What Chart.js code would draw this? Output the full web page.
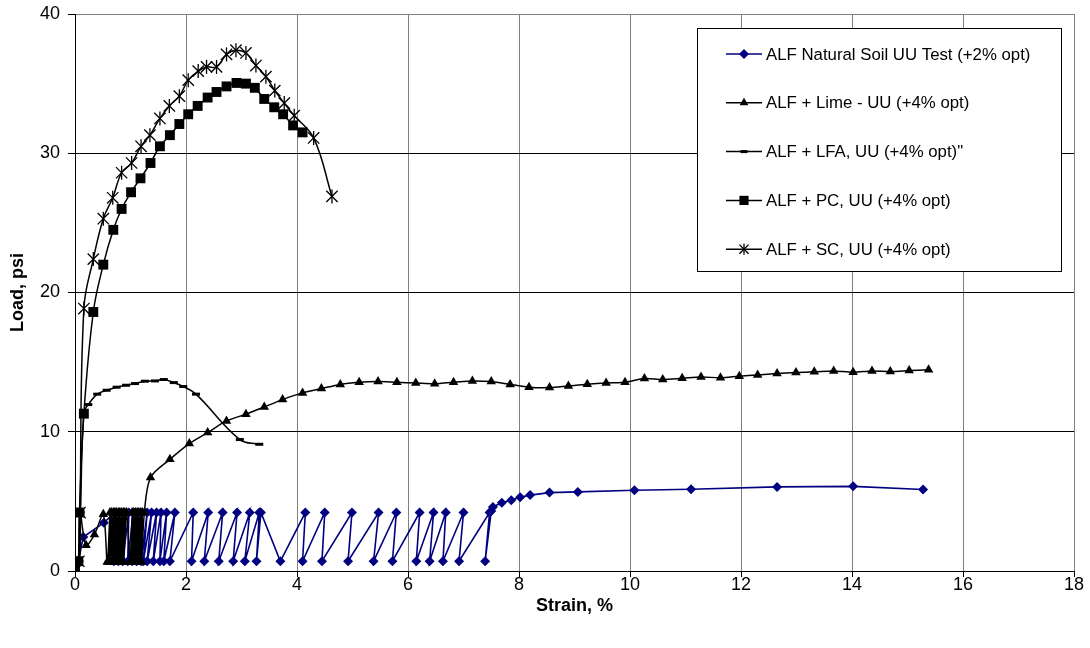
<!DOCTYPE html>
<html>
<head>
<meta charset="utf-8">
<script src="https://cdn.jsdelivr.net/npm/chart.js@4/dist/chart.umd.min.js"></script>
<style>
  html, body { margin: 0; padding: 0; background: #fff; }
  #wrap { width: 1090px; height: 648px; }
</style>
</head>
<body>
<div id="wrap"><canvas id="c" width="1090" height="648"></canvas></div>
<script>
// ---------- DATA ----------
const seriesLabels = [
  'ALF Natural Soil UU Test (+2% opt)',
  'ALF + Lime - UU (+4% opt)',
  'ALF + LFA, UU (+4% opt)"',
  'ALF + PC, UU (+4% opt)',
  'ALF + SC, UU (+4% opt)'
];

const xTickValues = [0, 2, 4, 6, 8, 10, 12, 14, 16, 18];
const yTickValues = [0, 10, 20, 30, 40];

const naturalX = [0, 0.06, 0.15, 0.52, 0.72, 0.70, 0.80, 0.78, 0.88, 0.86, 0.97, 0.95, 1.05, 1.03, 1.13, 1.11, 1.21, 1.19,
  1.30, 1.23, 1.38, 1.30, 1.47, 1.41, 1.55, 1.53, 1.65, 1.60, 1.80, 1.71, 2.13, 2.10, 2.40, 2.33, 2.66, 2.59, 2.92, 2.85,
  3.15, 3.06, 3.32, 3.27, 3.35, 3.70, 4.15, 4.10, 4.50, 4.45, 4.99, 4.92, 5.47, 5.38, 5.79, 5.72, 6.21, 6.15, 6.46, 6.39,
  6.68, 6.63, 7.00, 6.92, 7.47, 7.39, 7.50, 7.53, 7.69, 7.86, 8.02, 8.20, 8.55, 9.06, 10.08, 11.10, 12.65, 14.02, 15.28];
const naturalY = [0, 0.7, 2.44, 3.47, 4.2, 0.7, 4.2, 0.7, 4.2, 0.7, 4.2, 0.7, 4.2, 0.7, 4.2, 0.7, 4.2, 0.7,
  4.2, 0.7, 4.2, 0.7, 4.2, 0.7, 4.2, 0.7, 4.2, 0.7, 4.2, 0.7, 4.2, 0.7, 4.2, 0.7, 4.2, 0.7, 4.2, 0.7,
  4.2, 0.7, 4.2, 0.7, 4.2, 0.7, 4.2, 0.7, 4.2, 0.7, 4.2, 0.7, 4.2, 0.7, 4.2, 0.7, 4.2, 0.7, 4.2, 0.7,
  4.2, 0.7, 4.2, 0.7, 4.2, 0.7, 4.3, 4.6, 4.9, 5.08, 5.3, 5.45, 5.63, 5.68, 5.80, 5.87, 6.04, 6.08, 5.85];

const limeX = [0, 0.06, 0.09, 0.20, 0.35, 0.51,
  0.58, 0.63, 0.61, 0.66, 0.64, 0.69, 0.67, 0.72, 0.70, 0.75, 0.73, 0.78, 0.76, 0.81, 0.79, 0.84,
  0.82, 0.87, 0.85, 0.90, 0.88, 0.93,
  0.99, 1.03, 1.02, 1.06, 1.05, 1.09, 1.08, 1.12, 1.11, 1.15, 1.14, 1.18, 1.17, 1.21, 1.20, 1.25,
  1.36, 1.71, 2.06, 2.39, 2.73, 3.08, 3.41, 3.74, 4.10, 4.44, 4.78, 5.12, 5.46, 5.80, 6.14, 6.48, 6.82, 7.16, 7.50,
  7.84, 8.18, 8.55, 8.89, 9.23, 9.57, 9.91, 10.26, 10.59, 10.94, 11.28, 11.63, 11.97, 12.30, 12.65, 12.99, 13.32,
  13.67, 14.02, 14.36, 14.69, 15.03, 15.38];
const limeY = [0, 0.7, 4.2, 1.85, 2.62, 4.07,
  0.65, 4.2, 0.65, 4.2, 0.65, 4.2, 0.65, 4.2, 0.65, 4.2, 0.65, 4.2, 0.65, 4.2, 0.65, 4.2,
  0.65, 4.2, 0.65, 4.2, 0.65, 4.2,
  0.65, 4.2, 0.65, 4.2, 0.65, 4.2, 0.65, 4.2, 0.65, 4.2, 0.65, 4.2, 0.65, 4.2, 0.65, 4.2,
  6.71, 8.02, 9.15, 9.94, 10.78, 11.26, 11.78, 12.31, 12.79, 13.1, 13.4, 13.55, 13.6, 13.55, 13.5, 13.45, 13.55, 13.65, 13.6,
  13.4, 13.2, 13.17, 13.29, 13.41, 13.5, 13.56, 13.82, 13.75, 13.84, 13.94, 13.87, 13.99, 14.08, 14.18, 14.25, 14.3,
  14.37, 14.27, 14.37, 14.32, 14.39, 14.46];

const lfaX = [0, 0.08, 0.10, 0.16, 0.24, 0.40, 0.57, 0.75, 0.92, 1.08, 1.26, 1.44, 1.60, 1.78, 1.95, 2.18, 2.97, 3.32];
const lfaY = [0, 0.7, 4.2, 11.4, 11.95, 12.7, 12.98, 13.2, 13.34, 13.46, 13.63, 13.65, 13.75, 13.53, 13.25, 12.7, 9.44, 9.1];

const pcX = [0, 0.06, 0.08, 0.16, 0.33, 0.51, 0.69, 0.84, 1.01, 1.18, 1.36, 1.53, 1.71, 1.88, 2.04, 2.21, 2.39, 2.55,
  2.73, 2.91, 3.08, 3.24, 3.41, 3.59, 3.75, 3.93, 4.10];
const pcY = [0, 0.7, 4.2, 11.3, 18.6, 22.0, 24.5, 26.0, 27.2, 28.2, 29.3, 30.5, 31.3, 32.1, 32.8, 33.4, 34.0, 34.4,
  34.8, 35.05, 35.0, 34.7, 33.9, 33.3, 32.8, 32.0, 31.5];

const scX = [0, 0.07, 0.09, 0.16, 0.33, 0.51, 0.68, 0.84, 1.02, 1.19, 1.35, 1.53, 1.70, 1.88, 2.04, 2.22, 2.37, 2.55,
  2.73, 2.90, 3.08, 3.26, 3.44, 3.60, 3.77, 3.95, 4.30, 4.63];
const scY = [0, 0.7, 4.2, 18.85, 22.4, 25.3, 26.8, 28.6, 29.3, 30.5, 31.3, 32.5, 33.4, 34.1, 35.25, 35.9, 36.2, 36.2,
  37.1, 37.4, 37.2, 36.3, 35.5, 34.5, 33.6, 32.7, 31.1, 26.9];

// ---------- HELPERS ----------
const FONT = "'Liberation Sans', Arial, Helvetica, sans-serif";
function pts(xs, ys) { return xs.map((x, i) => ({ x: x, y: ys[i] })); }

const NAVY = '#000080';
const datasets = [
  { label: seriesLabels[0], data: pts(naturalX, naturalY), borderColor: NAVY, backgroundColor: NAVY,
    pointStyle: 'rectRot', pointRadius: 5, pointBorderWidth: 0, borderWidth: 1.6, tension: 0, order: 6 },
  { label: seriesLabels[1], data: pts(limeX, limeY), borderColor: '#000', backgroundColor: '#000',
    pointStyle: 'triangle', pointRadius: 5.5, pointBorderWidth: 0, borderWidth: 1.5, tension: 0.3, order: 5 },
  { label: seriesLabels[2], data: pts(lfaX, lfaY), borderColor: '#000', backgroundColor: '#000',
    pointStyle: 'line', pointRadius: 4, pointBorderWidth: 3, borderWidth: 1.5, tension: 0.4, order: 4 },
  { label: seriesLabels[3], data: pts(pcX, pcY), borderColor: '#000', backgroundColor: '#000',
    pointStyle: 'rect', pointRadius: 7, pointBorderWidth: 0, borderWidth: 1.5, tension: 0.4, order: 3 },
  { label: seriesLabels[4], data: pts(scX, scY), borderColor: '#000', backgroundColor: '#000',
    pointStyle: 'crossRot', pointRadius: 8, pointBorderWidth: 1.3, borderWidth: 1.5, tension: 0.4, order: 2,
    legendExtra: { pointStyle: 'line', rotation: 90 } },
  // vertical stroke of the SC asterisk marker (same SC data, markers only)
  { label: seriesLabels[4], data: pts(scX, scY), borderColor: '#000', backgroundColor: '#000',
    pointStyle: 'line', pointRotation: 90, pointRadius: 7, pointBorderWidth: 1.3, showLine: false, order: 1,
    legendSkip: true }
];
datasets.forEach(d => {
  if (d.showLine === undefined) d.showLine = true;
  d.fill = false; d.pointHoverRadius = d.pointRadius;
});

// ---------- BOXED LEGEND ----------
const boxLegend = {
  id: 'boxLegend',
  afterDraw(chart) {
    const ctx = chart.ctx;
    const a = chart.chartArea;
    const left = a.right - 377, top = a.top + 14, w = 364, h = 243;
    ctx.save();
    ctx.fillStyle = '#fff';
    ctx.fillRect(left, top, w, h);
    ctx.strokeStyle = '#000';
    ctx.lineWidth = 1;
    ctx.strokeRect(left + 0.5, top + 0.5, w, h);
    const rowGap = 48.8;
    let i = 0;
    chart.data.datasets.forEach(ds => {
      if (ds.legendSkip) return;
      const y = top + 26 + i * rowGap;
      i++;
      const x0 = left + 29, x1 = left + 65, xm = (x0 + x1) / 2;
      ctx.strokeStyle = ds.borderColor;
      ctx.lineWidth = 1.5;
      ctx.beginPath(); ctx.moveTo(x0, y); ctx.lineTo(x1, y); ctx.stroke();
      ctx.fillStyle = ds.backgroundColor;
      ctx.strokeStyle = ds.borderColor;
      ctx.lineWidth = ds.pointBorderWidth || 1;
      let r = 5;
      if (ds.pointStyle === 'rect') r = 6.5;
      else if (ds.pointStyle === 'line') r = 3.5;
      else if (ds.pointStyle === 'crossRot') r = 6.5;
      Chart.helpers.drawPoint(ctx, { pointStyle: ds.pointStyle, radius: r, rotation: 0,
        borderWidth: ds.pointBorderWidth }, xm, y);
      if (ds.legendExtra) {
        Chart.helpers.drawPoint(ctx, { pointStyle: ds.legendExtra.pointStyle, radius: 5.5,
          rotation: ds.legendExtra.rotation, borderWidth: ds.pointBorderWidth }, xm, y);
      }
      ctx.fillStyle = '#000';
      ctx.font = '16.8px ' + FONT;
      ctx.textBaseline = 'middle';
      ctx.textAlign = 'left';
      ctx.fillText(ds.label, x1 + 4, y + 1);
    });
    ctx.restore();
  }
};

// ---------- CHART ----------
new Chart(document.getElementById('c'), {
  type: 'scatter',
  data: { datasets: datasets },
  options: {
    responsive: false,
    animation: false,
    events: [],
    layout: { padding: { top: 14, right: 16, left: 0, bottom: 0 } },
    plugins: { legend: { display: false }, tooltip: { enabled: false } },
    scales: {
      x: {
        type: 'linear', min: 0, max: 18,
        afterBuildTicks: s => { s.ticks = xTickValues.map(v => ({ value: v })); },
        afterFit: s => { s.height = 77; s.paddingLeft = 0; s.paddingRight = 0; },
        ticks: { color: '#000', font: { family: FONT, size: 18 }, maxRotation: 0, padding: -3 },
        grid: { color: c => (c.tick && c.tick.value === 0) ? '#000' : '#808080', tickColor: '#000', tickLength: 6, lineWidth: 1 },
        border: { color: '#000', width: 1 },
        title: { display: true, text: 'Strain, %', color: '#000',
          font: { family: FONT, size: 18, weight: 'bold' }, padding: { top: 0, bottom: 31 } }
      },
      y: {
        type: 'linear', min: 0, max: 40,
        afterBuildTicks: s => { s.ticks = yTickValues.map(v => ({ value: v })); },
        afterFit: s => { s.width = 75; s.paddingTop = 0; s.paddingBottom = 0; },
        ticks: { color: '#000', font: { family: FONT, size: 18 }, padding: 8 },
        grid: { color: c => (c.tick && c.tick.value === 40) ? '#808080' : '#000', tickColor: '#000', tickLength: 7, lineWidth: 1 },
        border: { color: '#000', width: 1 },
        title: { display: true, text: 'Load, psi', color: '#000',
          font: { family: FONT, size: 18, weight: 'bold' }, padding: { top: 7, bottom: 0 } }
      }
    }
  },
  plugins: [boxLegend]
});
</script>
</body>
</html>
